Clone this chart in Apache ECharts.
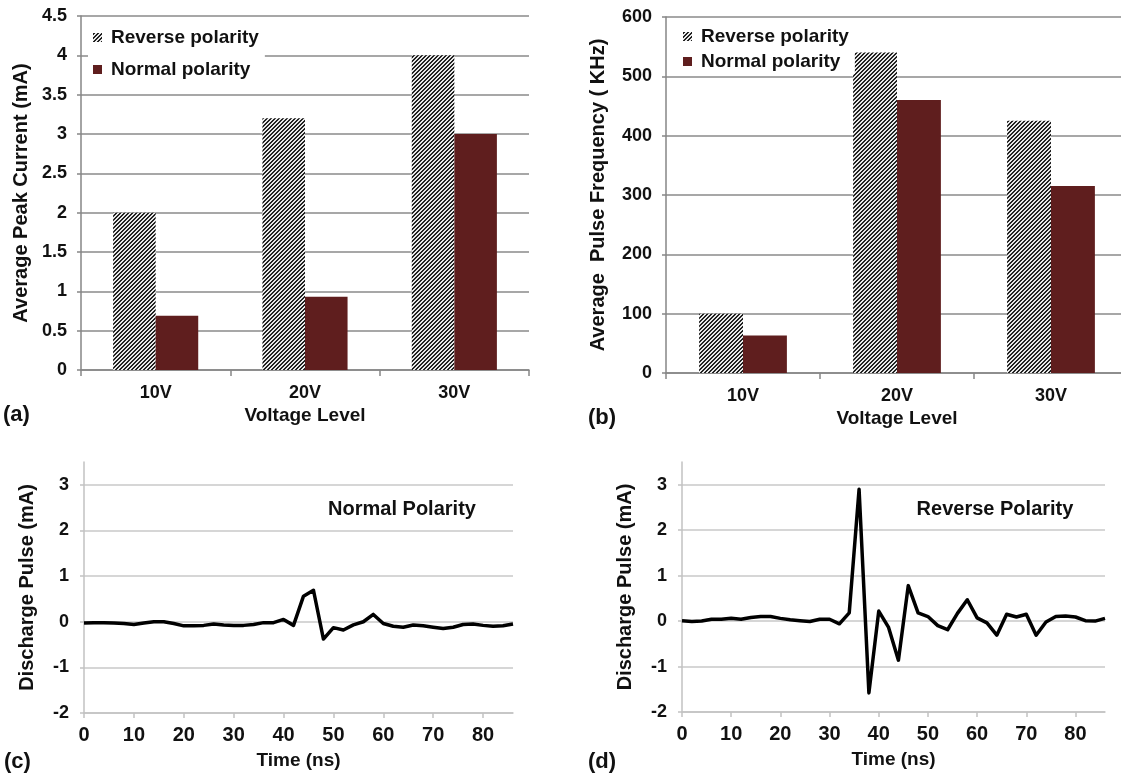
<!DOCTYPE html>
<html>
<head>
<meta charset="utf-8">
<title>Peak current, pulse frequency and discharge pulses</title>
<script src="https://cdn.jsdelivr.net/npm/echarts@6.0.0/dist/echarts.min.js"></script>
<style>
  html, body { margin: 0; padding: 0; background: #fff; }
  #chart { width: 1121px; height: 776px; }
</style>
</head>
<body>
<div id="chart"></div>
<script>
// data
const voltages = ['10V', '20V', '30V'];
const peakReverse = [2.0, 3.2, 4.0];
const peakNormal = [0.69, 0.93, 3.0];
const freqReverse = [100, 540, 425];
const freqNormal = [63, 460, 315];

const timeNs = [0, 2, 4, 6, 8, 10, 12, 14, 16, 18, 20, 22, 24, 26, 28, 30, 32, 34, 36, 38, 40, 42,
  44, 46, 48, 50, 52, 54, 56, 58, 60, 62, 64, 66, 68, 70, 72, 74, 76, 78, 80, 82, 84, 86];
const pulseNormal = [-0.03, -0.02, -0.02, -0.03, -0.04, -0.06, -0.03, 0.0, 0.0, -0.04, -0.09, -0.09,
  -0.08, -0.05, -0.07, -0.08, -0.08, -0.06, -0.02, -0.02, 0.05, -0.08, 0.56, 0.69, -0.38, -0.13,
  -0.18, -0.07, 0.0, 0.16, -0.04, -0.1, -0.12, -0.07, -0.09, -0.12, -0.15, -0.12, -0.06, -0.05,
  -0.08, -0.1, -0.09, -0.05];
const pulseReverse = [0.01, -0.01, 0.0, 0.04, 0.04, 0.06, 0.04, 0.08, 0.1, 0.1, 0.06, 0.03, 0.01,
  -0.01, 0.04, 0.04, -0.06, 0.18, 2.9, -1.58, 0.22, -0.14, -0.86, 0.78, 0.18, 0.1, -0.1, -0.19,
  0.17, 0.47, 0.07, -0.04, -0.31, 0.15, 0.09, 0.15, -0.31, -0.02, 0.1, 0.11, 0.09, 0.01, 0.0, 0.06];

const FONT = '"Liberation Sans", Arial, Helvetica, sans-serif';
const MAROON = '#5f1e1e';

// diagonal hatch for the reverse polarity bars
const tile = document.createElement('canvas');
tile.width = 4;
tile.height = 4;
const tctx = tile.getContext('2d');
tctx.fillStyle = '#e8e8e8';
tctx.fillRect(0, 0, 4, 4);
tctx.fillStyle = '#222';
for (let x = 0; x < 4; x++) {
  for (let y = 0; y < 4; y++) {
    if ((x + y) % 4 < 2) tctx.fillRect(x, y, 1, 1);
  }
}
const hatch = { image: tile, repeat: 'repeat' };

function txt(size) {
  return { fontFamily: FONT, fontSize: size, fontWeight: 'bold', color: '#111' };
}

function barX(gi) {
  return {
    gridIndex: gi, type: 'category', data: voltages,
    name: 'Voltage Level', nameLocation: 'middle', nameGap: 36, nameTextStyle: txt(19),
    axisLine: { show: true, lineStyle: { color: '#868686', width: 1.5 } },
    axisTick: { show: true, length: 6, alignWithLabel: false, lineStyle: { color: '#868686', width: 1.5 } },
    axisLabel: Object.assign({ margin: 14 }, txt(18)),
    splitLine: { show: false }
  };
}

function barY(gi, max, step, name, gap) {
  return {
    gridIndex: gi, type: 'value', min: 0, max: max, interval: step,
    name: name, nameLocation: 'middle', nameGap: gap, nameTextStyle: txt(20), nameMoveOverlap: false,
    axisLine: { show: true, lineStyle: { color: '#868686', width: 1.5 } },
    axisTick: { show: true, length: 4, lineStyle: { color: '#868686', width: 1.5 } },
    axisLabel: Object.assign({ margin: 14 }, txt(18)),
    splitLine: { show: true, lineStyle: { color: '#8a8a8a', width: 1.5 } }
  };
}

function pulseX(gi) {
  return {
    gridIndex: gi, type: 'value', min: 0, max: 86, interval: 10,
    name: 'Time (ns)', nameLocation: 'middle', nameGap: 38, nameTextStyle: txt(19),
    axisLine: { show: true, onZero: false, lineStyle: { color: '#c2c2c2', width: 1.5 } },
    axisTick: { show: true, length: 5, lineStyle: { color: '#c2c2c2', width: 1.5 } },
    axisLabel: Object.assign({ margin: 12, showMaxLabel: false }, txt(20)),
    splitLine: { show: false }
  };
}

function pulseY(gi) {
  return {
    gridIndex: gi, type: 'value', min: -2, max: 3.5, interval: 1,
    name: 'Discharge Pulse (mA)', nameLocation: 'middle', nameGap: 47, nameTextStyle: txt(20),
    nameMoveOverlap: false,
    axisLine: { show: true, onZero: false, lineStyle: { color: '#c2c2c2', width: 1.5 } },
    axisTick: { show: true, length: 4, lineStyle: { color: '#c2c2c2', width: 1.5 } },
    axisLabel: Object.assign({ margin: 15, showMaxLabel: false }, txt(18)),
    splitLine: { show: true, showMaxLine: false, lineStyle: { color: '#c8c8c8', width: 1.5 } }
  };
}

function legendAt(left, top, gap) {
  return {
    data: ['Reverse polarity', 'Normal polarity'],
    orient: 'vertical', left: left, top: top, itemGap: gap,
    itemWidth: 9, itemHeight: 9, icon: 'rect',
    backgroundColor: '#fff', padding: [3, 6, 3, 5],
    textStyle: Object.assign({ padding: [0, 0, 0, 4] }, txt(19)),
    selectedMode: false
  };
}

function label(text, x, y, size, align) {
  return {
    type: 'text', x: x, y: y,
    style: {
      text: text, fill: '#111', fontFamily: FONT, fontSize: size, fontWeight: 'bold',
      align: align || 'left', verticalAlign: 'middle'
    }
  };
}

const chart = echarts.init(document.getElementById('chart'), null, { renderer: 'canvas' });

chart.setOption({
  animation: false,
  backgroundColor: '#fff',
  grid: [
    { left: 81, right: 592, top: 16, bottom: 406, containLabel: false, outerBoundsMode: 'none' },
    { left: 666, right: -7, top: 17, bottom: 403, containLabel: false, outerBoundsMode: 'none' },
    { left: 84, right: 608, top: 462, bottom: 63, containLabel: false, outerBoundsMode: 'none' },
    { left: 682, right: 16, top: 462, bottom: 64, containLabel: false, outerBoundsMode: 'none' }
  ],
  xAxis: [barX(0), barX(1), pulseX(2), pulseX(3)],
  yAxis: [
    barY(0, 4.5, 0.5, 'Average Peak Current (mA)', 50),
    barY(1, 600, 100, 'Average  Pulse Frequency ( KHz)', 58),
    pulseY(2),
    pulseY(3)
  ],
  legend: [legendAt(88, 25, 13), legendAt(678, 24, 6)],
  series: [
    { type: 'bar', name: 'Reverse polarity', xAxisIndex: 0, yAxisIndex: 0, data: peakReverse,
      itemStyle: { color: hatch }, barGap: '0%', barCategoryGap: '43%' },
    { type: 'bar', name: 'Normal polarity', xAxisIndex: 0, yAxisIndex: 0, data: peakNormal,
      itemStyle: { color: MAROON }, barGap: '0%', barCategoryGap: '43%' },
    { type: 'bar', name: 'Reverse polarity', xAxisIndex: 1, yAxisIndex: 1, data: freqReverse,
      itemStyle: { color: hatch }, barGap: '0%', barCategoryGap: '43%' },
    { type: 'bar', name: 'Normal polarity', xAxisIndex: 1, yAxisIndex: 1, data: freqNormal,
      itemStyle: { color: MAROON }, barGap: '0%', barCategoryGap: '43%' },
    { type: 'line', name: 'Normal Polarity pulse', xAxisIndex: 2, yAxisIndex: 2,
      data: timeNs.map((t, i) => [t, pulseNormal[i]]),
      showSymbol: false, lineStyle: { color: '#000', width: 3.5, join: 'round' }, itemStyle: { color: '#000' } },
    { type: 'line', name: 'Reverse Polarity pulse', xAxisIndex: 3, yAxisIndex: 3,
      data: timeNs.map((t, i) => [t, pulseReverse[i]]),
      showSymbol: false, lineStyle: { color: '#000', width: 3.5, join: 'round' }, itemStyle: { color: '#000' } }
  ],
  graphic: [
    label('(a)', 3, 415, 22),
    label('(b)', 588, 418, 22),
    label('(c)', 4, 762, 22),
    label('(d)', 588, 762, 22),
    label('Normal Polarity', 402, 509, 20, 'center'),
    label('Reverse Polarity', 995, 509, 20, 'center')
  ]
});
</script>
</body>
</html>
